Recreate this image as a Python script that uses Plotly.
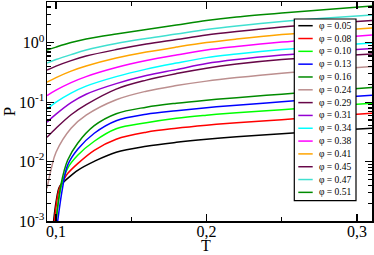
import plotly.graph_objects as go

# ---- data (T, P) ----
phi = [0.05, 0.08, 0.10, 0.13, 0.16, 0.24, 0.29, 0.31, 0.34, 0.38, 0.41, 0.45, 0.47, 0.51]
colors = ["#000000", "#ff0000", "#00ff00", "#0000ff", "#008b00", "#bc8f8f", "#670748",
          "#9400d3", "#00ffff", "#ff00ff", "#ffa500", "#670748", "#40e0d0", "#008b00"]

T_hi = [0.094, 0.1, 0.11, 0.12, 0.14, 0.16, 0.18, 0.2, 0.22, 0.25, 0.28, 0.31]
T_brown = [0.094, 0.0969, 0.1, 0.11, 0.12, 0.14, 0.16, 0.18, 0.2, 0.22, 0.25, 0.28, 0.31]
T_black = [0.0984, 0.1, 0.1022, 0.1049, 0.1077, 0.1144, 0.1254, 0.14, 0.16, 0.18, 0.2, 0.22, 0.25, 0.28, 0.31]
T_red = [0.0989, 0.1022, 0.1049, 0.1077, 0.1144, 0.1254, 0.14, 0.16, 0.18, 0.2, 0.22, 0.25, 0.28, 0.31]
T_lime = [0.1, 0.1033, 0.1077, 0.1144, 0.1254, 0.14, 0.16, 0.18, 0.2, 0.22, 0.25, 0.28, 0.31]
T_blue = [0.1011, 0.1044, 0.1077, 0.1144, 0.1254, 0.14, 0.16, 0.18, 0.2, 0.22, 0.25, 0.28, 0.31]
T_green = [0.1, 0.1033, 0.1077, 0.1144, 0.1254, 0.14, 0.16, 0.18, 0.2, 0.22, 0.25, 0.28, 0.31]

P_005 = [0.001, 0.00208, 0.00373, 0.00448, 0.00522, 0.00713, 0.0101, 0.01436, 0.0181, 0.0211, 0.0238, 0.0262, 0.0294, 0.0330, 0.0364]
P_008 = [0.001, 0.00355, 0.00484, 0.00628, 0.00925, 0.0155, 0.0238, 0.0312, 0.0364, 0.0409, 0.0451, 0.0507, 0.0581, 0.0652]
P_010 = [0.001, 0.00369, 0.00771, 0.01276, 0.0220, 0.0357, 0.0451, 0.0537, 0.0604, 0.0665, 0.0746, 0.0855, 0.0962]
P_013 = [0.001, 0.00369, 0.00867, 0.0161, 0.0300, 0.0488, 0.0628, 0.0719, 0.0807, 0.0889, 0.1019, 0.1167, 0.1312]
P_016 = [0.001, 0.00414, 0.01052, 0.0204, 0.0402, 0.0640, 0.0824, 0.0962, 0.1081, 0.1191, 0.1365, 0.1563, 0.1770]
P_024 = [0.00355, 0.00771, 0.01436, 0.0364, 0.0604, 0.110, 0.153, 0.190, 0.226, 0.259, 0.308, 0.353, 0.397]
P_029 = [0.0257, 0.0364, 0.0615, 0.0908, 0.166, 0.235, 0.303, 0.374, 0.438, 0.521, 0.585, 0.644]
P_031 = [0.0460, 0.0628, 0.0982, 0.136, 0.205, 0.280, 0.353, 0.446, 0.521, 0.621, 0.711, 0.798]
P_034 = [0.0762, 0.100, 0.142, 0.186, 0.269, 0.360, 0.455, 0.562, 0.644, 0.767, 0.879, 0.989]
P_038 = [0.129, 0.159, 0.213, 0.269, 0.382, 0.501, 0.621, 0.753, 0.863, 1.028, 1.178, 1.349]
P_041 = [0.217, 0.259, 0.333, 0.405, 0.552, 0.697, 0.845, 1.007, 1.153, 1.374, 1.574, 1.770]
P_045 = [0.347, 0.405, 0.501, 0.597, 0.767, 0.951, 1.132, 1.349, 1.545, 1.841, 2.109, 2.366]
P_047 = [0.455, 0.521, 0.632, 0.753, 0.968, 1.178, 1.403, 1.671, 1.914, 2.275, 2.606, 2.931]
P_051 = [0.753, 0.845, 1.007, 1.153, 1.403, 1.671, 1.986, 2.366, 2.710, 3.170, 3.631, 4.159]

series = [
    (T_black, P_005), (T_red, P_008), (T_lime, P_010), (T_blue, P_013), (T_green, P_016),
    (T_brown, P_024), (T_hi, P_029), (T_hi, P_031), (T_hi, P_034), (T_hi, P_038),
    (T_hi, P_041), (T_hi, P_045), (T_hi, P_047), (T_hi, P_051),
]

y_tickvals = [0.001, 0.01, 0.1, 1]
y_ticktext = ["10<sup>-3</sup>", "10<sup>-2</sup>", "10<sup>-1</sup>", "10<sup>0</sup>"]
y_minorvals = [m * d for d in (0.001, 0.01, 0.1, 1) for m in range(2, 10)]

FONT = "Liberation Serif"

fig = go.Figure()
for (t, p), ph, c in zip(series, phi, colors):
    fig.add_trace(go.Scatter(x=t, y=p, mode="lines", name=f"φ = {ph:.2f}",
                             line=dict(color=c, width=1.5, shape="spline", smoothing=1.0),
                             showlegend=False))

# compact legend box (xmgrace style)
L, R, TOP, BOT = 47, 372, 2, 221
W, H = R - L, BOT - TOP
def px(x):
    return (x - L) / W
def py(y):
    return (BOT - y) / H

shapes = [dict(type="rect", xref="paper", yref="paper",
               x0=px(294.3), x1=px(356), y0=py(200.7), y1=py(19),
               fillcolor="white", line=dict(color="black", width=1.2), layer="above")]
annotations = []
for i, (ph, c) in enumerate(zip(phi, colors)):
    yy = 25.7 + i * 12.82
    shapes.append(dict(type="line", xref="paper", yref="paper",
                       x0=px(298.3), x1=px(312.7), y0=py(yy), y1=py(yy),
                       line=dict(color=c, width=1.5), layer="above"))
    annotations.append(dict(xref="paper", yref="paper", x=px(317), y=py(yy),
                            xanchor="left", yanchor="middle", showarrow=False,
                            text=f"φ = {ph:.2f}",
                            font=dict(family=FONT, size=9.5, color="black")))

# x-axis title placed in the bottom margin
annotations.append(dict(xref="paper", yref="paper", x=px(206), y=py(255),
                        xanchor="center", yanchor="bottom", showarrow=False, borderpad=0,
                        text="T", font=dict(family=FONT, size=16, color="black")))

fig.update_layout(
    width=374, height=255,
    margin=dict(l=L, r=374 - R, t=TOP, b=255 - BOT, autoexpand=False),
    paper_bgcolor="white", plot_bgcolor="white",
    separators=", ",
    font=dict(family=FONT, size=16, color="black"),
    shapes=shapes, annotations=annotations,
    showlegend=False,
)
fig.update_xaxes(
    range=[0.094, 0.31], tick0=0.1, dtick=0.1, tickformat=".1f",
    ticks="inside", ticklen=7, tickwidth=1.2, tickcolor="black",
    minor=dict(dtick=0.05, tick0=0.1, ticks="inside", ticklen=4, tickwidth=1.2, tickcolor="black"),
    showline=True, linecolor="black", linewidth=1.5, mirror="ticks",
    showgrid=False, zeroline=False, automargin=False,
    ticklabelstandoff=-5,
    tickfont=dict(family=FONT, size=16),
)
fig.update_yaxes(
    type="log", range=[-3, 0.686],
    tickvals=y_tickvals, ticktext=y_ticktext,
    ticks="inside", ticklen=7, tickwidth=1.2, tickcolor="black",
    minor=dict(tickvals=y_minorvals, ticks="inside", ticklen=4, tickwidth=1.2,
               tickcolor="black", showgrid=False),
    showline=True, linecolor="black", linewidth=1.5, mirror="ticks",
    showgrid=False, zeroline=False, automargin=False,
    ticklabelstandoff=-2,
    title=dict(text="P", standoff=2, font=dict(family=FONT, size=17)),
    tickfont=dict(family=FONT, size=16),
)

fig.write_html("out.html",
               config={"displayModeBar": False, "staticPlot": True},
               post_script="document.body.style.margin='0';document.body.style.padding='0';"
                           "document.body.style.overflow='hidden';")
